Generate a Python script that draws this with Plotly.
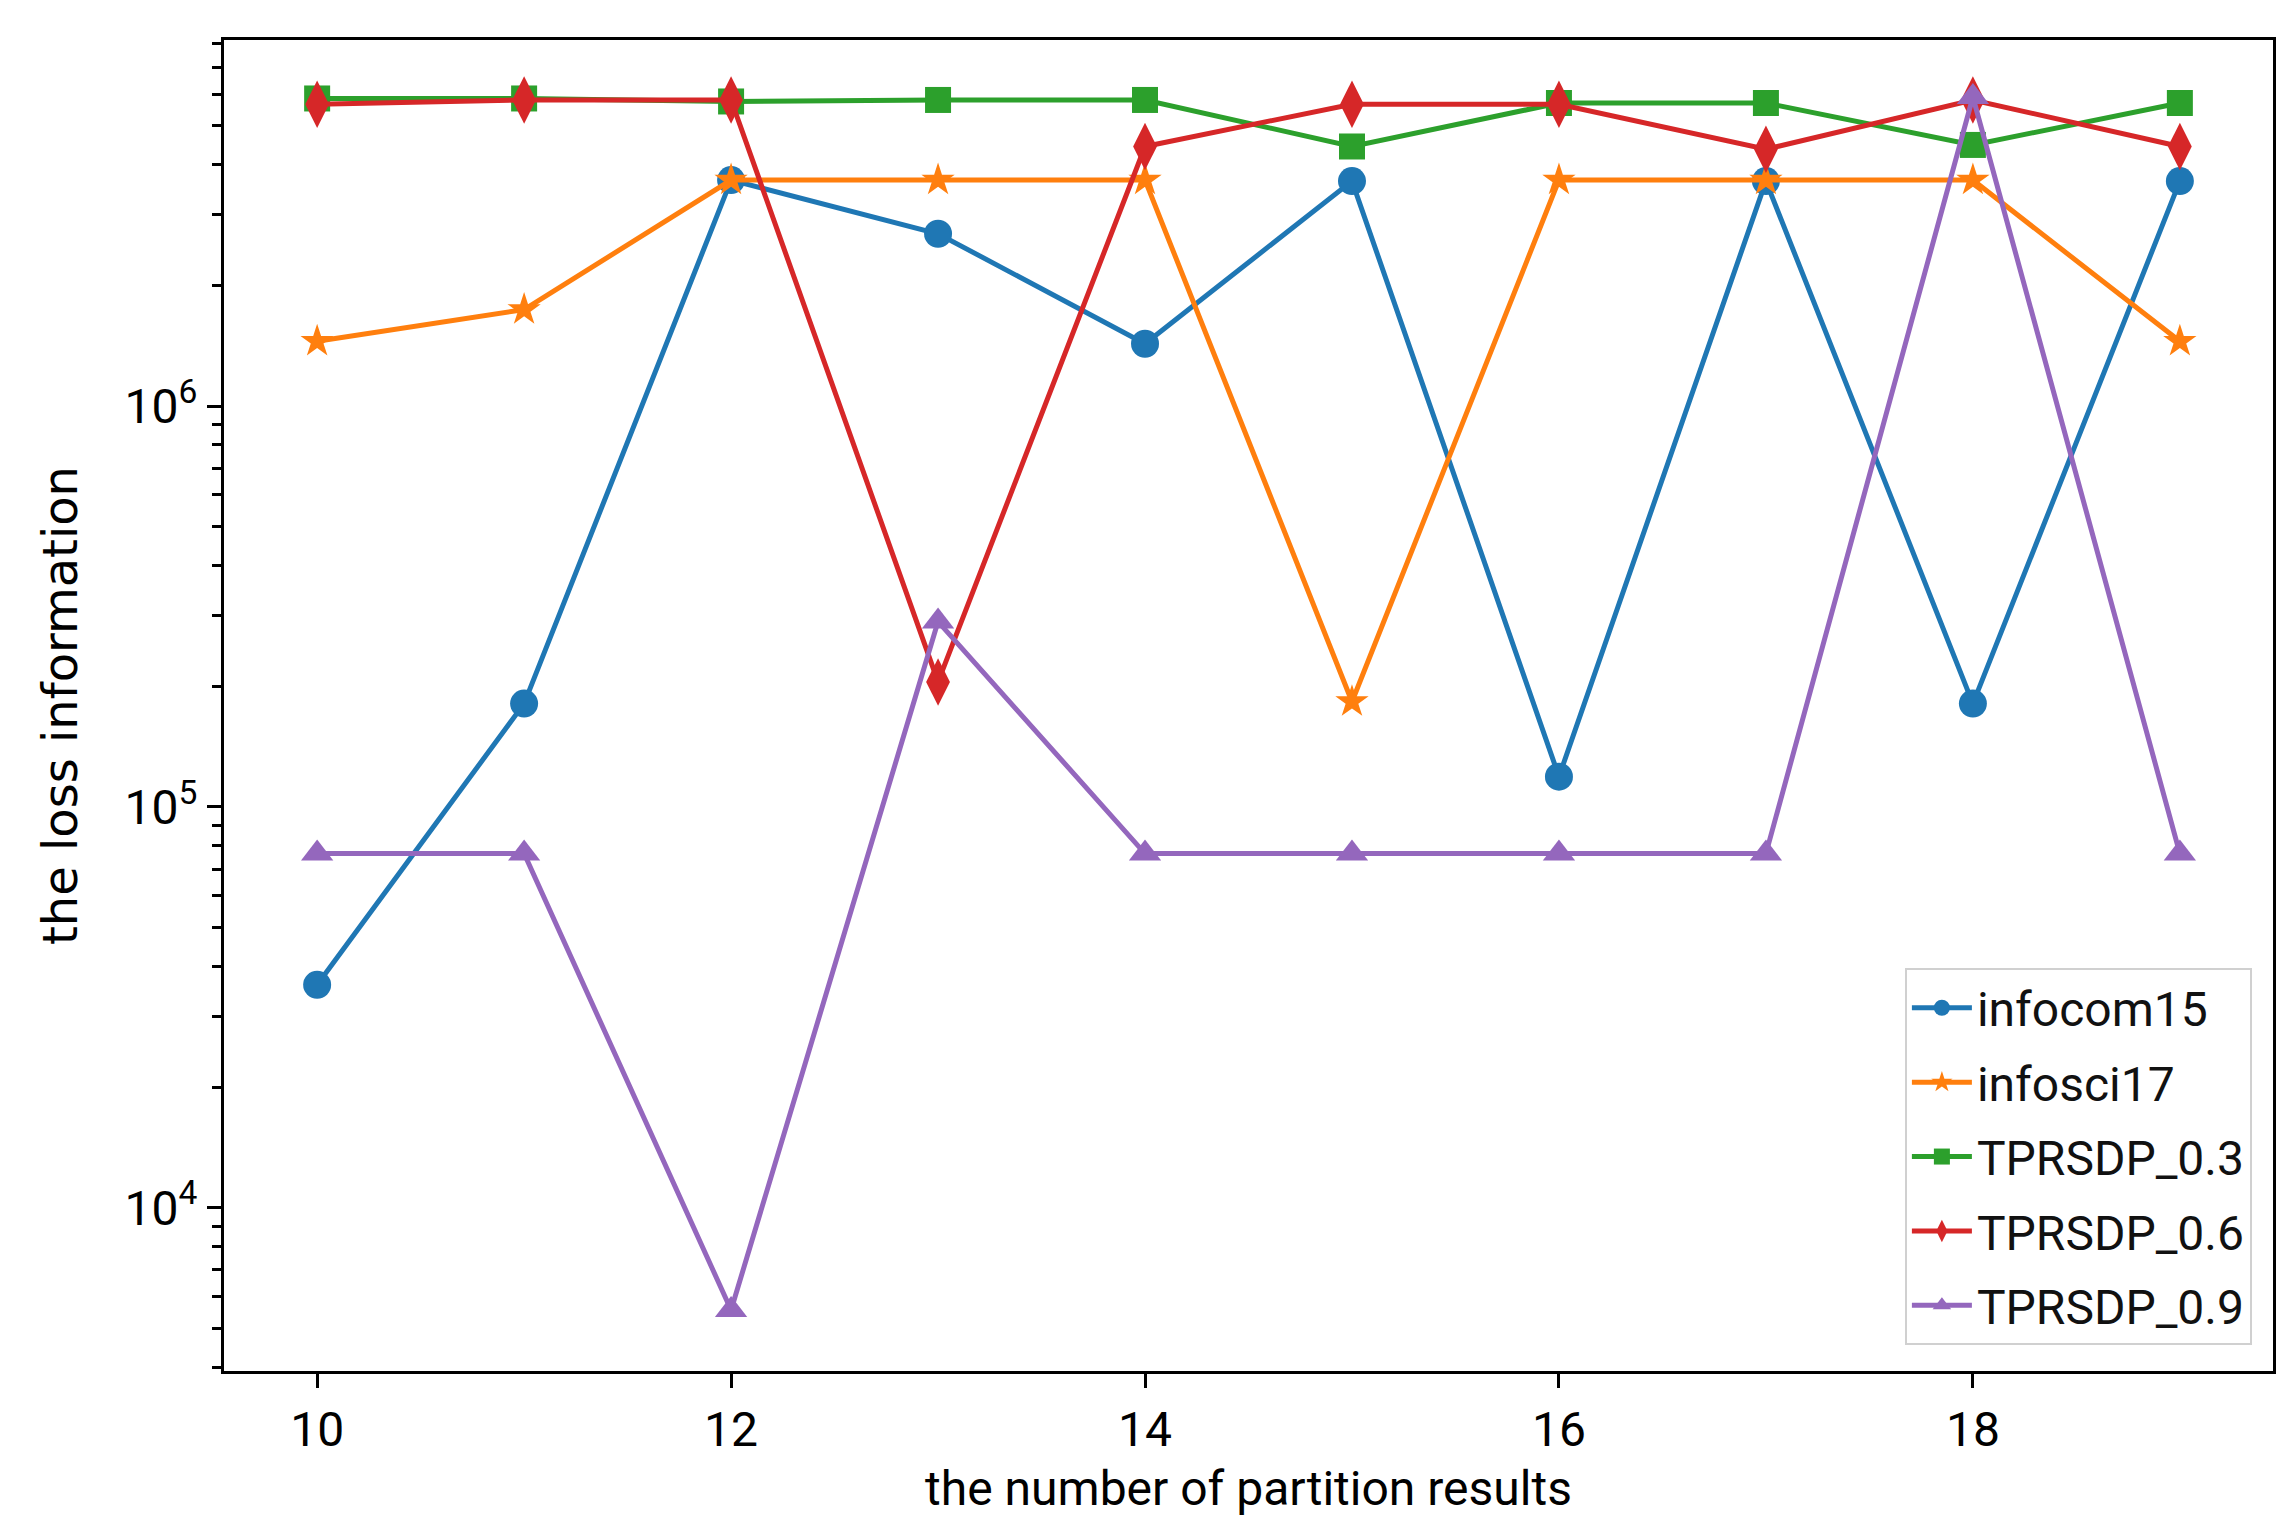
import plotly.graph_objects as go

x_vals = [10, 11, 12, 13, 14, 15, 16, 17, 18, 19]

infocom15 = [3.6e4, 1.81e5, 3.66e6, 2.69e6, 1.43e6, 3.64e6, 1.19e5, 3.64e6, 1.81e5, 3.64e6]
infosci17 = [1.45e6, 1.74e6, 3.66e6, 3.66e6, 3.66e6, 1.83e5, 3.66e6, 3.66e6, 3.66e6, 1.45e6]
tprsdp_03 = [5.85e6, 5.85e6, 5.75e6, 5.8e6, 5.8e6, 4.44e6, 5.7e6, 5.7e6, 4.48e6, 5.7e6]
tprsdp_06 = [5.66e6, 5.8e6, 5.8e6, 2.05e5, 4.44e6, 5.66e6, 5.66e6, 4.37e6, 5.8e6, 4.44e6]
tprsdp_09 = [7.65e4, 7.65e4, 5.56e3, 2.9e5, 7.65e4, 7.65e4, 7.65e4, 7.65e4, 5.9e6, 7.65e4]

series_names = ["infocom15", "infosci17", "TPRSDP_0.3", "TPRSDP_0.6", "TPRSDP_0.9"]
series_values = [infocom15, infosci17, tprsdp_03, tprsdp_06, tprsdp_09]
colors = ["#1f77b4", "#ff7f0e", "#2ca02c", "#d62728", "#9467bd"]
symbols = ["circle", "star", "square", "diamond-tall", "triangle-up"]
marker_sizes = [28, 25, 26, 34, 28]

x_tickvals = [10, 12, 14, 16, 18]
y_tickvals = [1e4, 1e5, 1e6]
y_ticktext = ["10<sup>4</sup>", "10<sup>5</sup>", "10<sup>6</sup>"]
y_minor = [m * 10 ** e for e in range(3, 7) for m in range(2, 10)]

tick_font = "Roboto, Liberation Sans, sans-serif"

fig = go.Figure()
for name, vals, c, s, ms in zip(series_names, series_values, colors, symbols, marker_sizes):
    fig.add_trace(go.Scatter(
        x=x_vals, y=vals, name=name, legendgroup=name, mode="lines+markers",
        line=dict(color=c, width=5),
        marker=dict(symbol=s, size=ms, color=c, line=dict(width=0)),
    ))

fig.update_layout(
    width=2288, height=1536,
    margin=dict(l=216, r=23, t=32, b=173, autoexpand=False),
    paper_bgcolor="white", plot_bgcolor="white",
    font=dict(family=tick_font, color="black", size=48),
    showlegend=True,
    legend=dict(
        x=0.9897, y=0.0195, xanchor="right", yanchor="bottom",
        bgcolor="white", bordercolor="#d0d0d0", borderwidth=2,
        font=dict(family=tick_font, size=48, color="#111111"),
        itemwidth=60, tracegroupgap=9, traceorder="grouped",
    ),
)

fig.update_xaxes(
    range=[9.55, 19.45], tickvals=x_tickvals,
    showline=True, linecolor="black", linewidth=3, mirror=True,
    ticks="outside", ticklen=14, tickwidth=3, tickcolor="black",
    showgrid=False, zeroline=False, automargin=False,
    tickfont=dict(family=tick_font, size=48, color="black"),
    title=dict(text="the number of partition results",
               font=dict(family=tick_font, size=48, color="black")),
)

fig.update_yaxes(
    type="log", range=[3.593, 6.913],
    tickvals=y_tickvals, ticktext=y_ticktext,
    showline=True, linecolor="black", linewidth=3, mirror=True,
    ticks="outside", ticklen=14, tickwidth=3, tickcolor="black",
    minor=dict(tickvals=y_minor, ticks="outside", ticklen=9, tickwidth=3, tickcolor="black", showgrid=False),
    showgrid=False, zeroline=False, automargin=True,
    tickfont=dict(family=tick_font, size=48, color="black"),
    title=dict(text="the loss information", standoff=32,
               font=dict(family="DejaVu Sans", size=48, color="black")),
)

fig.write_html("out.html")
